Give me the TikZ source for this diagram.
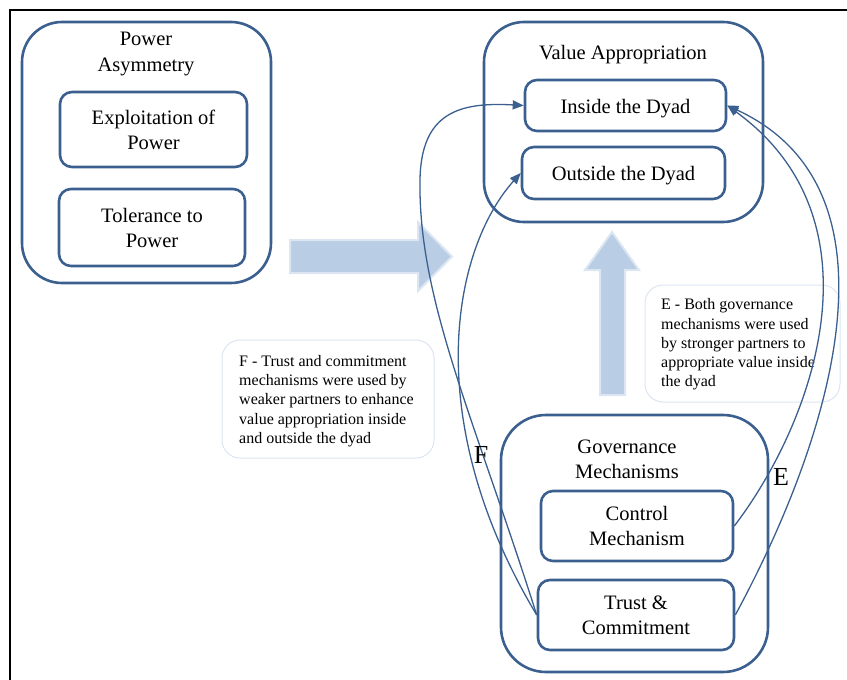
\documentclass[tikz,border=0pt]{standalone}
\usepackage{fontspec}
\setmainfont{Liberation Serif}
\usetikzlibrary{arrows.meta}
\definecolor{boxline}{HTML}{3B5F8F}
\definecolor{arrowfill}{HTML}{B9CDE5}
\definecolor{arrowedge}{HTML}{DCE6F2}
\definecolor{calloutline}{HTML}{DCE6F2}
\begin{document}
\begin{tikzpicture}[x=1pt,y=-1pt,
  outerbox/.style={draw=boxline, line width=2.6pt, rounded corners=40pt, inner sep=0pt},
  innerbox/.style={draw=boxline, line width=2.6pt, rounded corners=12pt, inner sep=0pt, align=center, font=\fontsize{20.5}{25}\selectfont},
  oneline/.style={text height=17.5pt, text depth=2pt},
  boxtitle/.style={align=center, inner sep=0pt, font=\fontsize{20.5}{26}\selectfont},
  callout/.style={draw=calloutline, line width=1pt, rounded corners=18pt, fill=white, inner sep=0pt},
  callouttext/.style={inner sep=0pt, anchor=west, align=left, font=\fontsize{16}{19.2}\selectfont},
  bigarrow/.style={fill=arrowfill, draw=arrowedge, line width=2pt, line join=miter},
  conn/.style={draw=boxline, line width=1.3pt, -{Triangle[length=11pt,width=9pt]}},
  flabel/.style={inner sep=0pt, font=\fontsize{26}{30}\selectfont}
]
\useasboundingbox (0,0) rectangle (847,680);
% outer frame
\draw[line width=2pt] (10,680) -- (10,10) -- (847,10);

% Power asymmetry
\node[outerbox, minimum width=249pt, minimum height=261pt] (pa) at (146.5,152.5) {};
\node[boxtitle] (patitle) at (146,54) {Power\\Asymmetry};
\node[innerbox, minimum width=187pt, minimum height=75pt] (exp) at (153.5,129.5) {Exploitation of\\Power};
\node[innerbox, minimum width=186pt, minimum height=77pt] (tol) at (152,227.5) {Tolerance to\\Power};

% Value appropriation
\node[outerbox, minimum width=279pt, minimum height=200pt] (va) at (623.5,122) {};
\node[boxtitle] (vatitle) at (623,55) {Value Appropriation};
\node[innerbox, oneline, minimum width=201pt, minimum height=51pt] (inside) at (625.5,105.5) {Inside the Dyad};
\node[innerbox, oneline, minimum width=203pt, minimum height=52pt] (outside) at (623.5,173) {Outside the Dyad};

% Governance
\node[outerbox, rounded corners=45pt, minimum width=267pt, minimum height=257pt] (gov) at (634.5,543.5) {};
\node[boxtitle, font=\fontsize{20.5}{25}\selectfont] (govtitle) at (627,459.5) {Governance\\Mechanisms};
\node[innerbox, minimum width=192pt, minimum height=70pt] (control) at (637,526) {Control\\Mechanism};
\node[innerbox, minimum width=196pt, minimum height=70pt] (trust) at (636,615) {Trust \&\\Commitment};

% block arrows
\draw[bigarrow] (290,240) -- (418,240) -- (418,222) -- (452,256.5) -- (418,291) -- (418,273) -- (290,273) -- cycle;
\draw[bigarrow] (600,395) -- (600,270) -- (585,270) -- (612,232) -- (639,270) -- (625,270) -- (625,395) -- cycle;

% callouts
\node[callout, minimum width=212pt, minimum height=118pt] (fnote) at (328,399) {};
\node[callouttext] (ftext) at (239,401) {F - Trust and commitment\\mechanisms were used by\\weaker partners to enhance\\value appropriation inside\\and outside the dyad};
\node[callout, minimum width=195pt, minimum height=117pt] (enote) at (742.5,343.5) {};
\node[callouttext] (etext) at (661,344.5) {E - Both governance\\mechanisms were used\\by stronger partners to\\appropriate value inside\\the dyad};

% connectors
\draw[conn] (trust.west) .. controls (475,420) and (418,300) .. (420,180) .. controls (421,112) and (460,102) .. (inside.west);
\draw[conn] (trust.west) .. controls (420,420) and (452,250) .. (outside.west);
\draw[conn] (control.east) .. controls (815,420) and (885,220) .. (inside.east);
\draw[conn] (trust.east) .. controls (830,440) and (910,190) .. (inside.east);

\node[flabel] (F) at (481,455) {F};
\node[flabel] (E) at (781,477) {E};
\end{tikzpicture}
\end{document}
